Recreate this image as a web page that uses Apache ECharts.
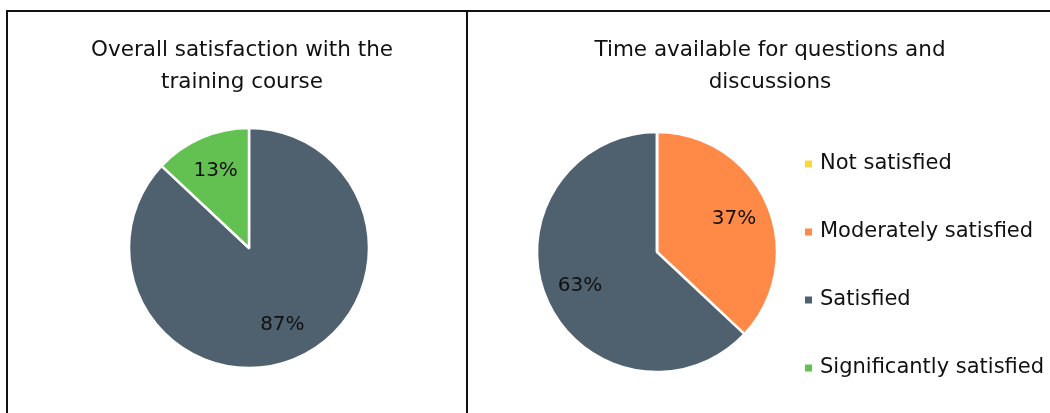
<!DOCTYPE html>
<html>
<head>
<meta charset="utf-8">
<script src="https://cdn.jsdelivr.net/npm/echarts@6/dist/echarts.min.js"></script>
<style>html,body{margin:0;padding:0;background:#fff;}#c{width:1050px;height:413px;}</style>
</head>
<body>
<div id="c"></div>
<script>
var categories = ['Not satisfied', 'Moderately satisfied', 'Satisfied', 'Significantly satisfied'];
var overallValues = [0, 0, 87, 13];
var timeValues = [0, 37, 63, 0];
var chartTitles = ['Overall satisfaction with the\ntraining course', 'Time available for questions and\ndiscussions'];
var colors = ['#FAD936', '#FF8A47', '#4F616F', '#63C152'];

var FONT = 'DejaVu Sans';
function makeData(vals) {
  return categories.map(function (n, i) { return { name: n, value: vals[i] }; });
}
function pieSeries(vals, center) {
  return {
    type: 'pie', center: center, radius: 120, startAngle: 90, clockwise: true,
    avoidLabelOverlap: false, animation: false,
    itemStyle: { borderColor: '#fff', borderWidth: 2.5 },
    label: { show: false }, labelLine: { show: false },
    emphasis: { disabled: true },
    data: makeData(vals)
  };
}
function labelSeries(vals, center) {
  return {
    type: 'pie', center: center, radius: [42, 120], startAngle: 90, clockwise: true,
    avoidLabelOverlap: false, animation: false, silent: true,
    itemStyle: { color: 'rgba(0,0,0,0)', borderWidth: 0 },
    label: {
      show: true, position: 'inside', color: '#111', fontFamily: FONT, fontSize: 20,
      formatter: function (p) { return p.value > 0 ? p.value + '%' : ''; }
    },
    labelLine: { show: false },
    emphasis: { disabled: true },
    legendHoverLink: false,
    data: makeData(vals)
  };
}
var chart = echarts.init(document.getElementById('c'), null, { renderer: 'canvas' });
chart.setOption({
  color: colors,
  animation: false,
  title: [
    { text: chartTitles[0], left: 237, top: 29, textAlign: 'center',
      textStyle: { fontFamily: FONT, fontWeight: 'normal', fontSize: 21.5, color: '#111', lineHeight: 32 } },
    { text: chartTitles[1], left: 765, top: 29, textAlign: 'center',
      textStyle: { fontFamily: FONT, fontWeight: 'normal', fontSize: 21.5, color: '#111', lineHeight: 32 } }
  ],
  legend: {
    orient: 'vertical', left: 798, top: 147, icon: 'rect', itemWidth: 9, itemHeight: 9,
    itemGap: 44, selectedMode: false,
    textStyle: { fontFamily: FONT, fontSize: 21, color: '#111', lineHeight: 24, padding: [0, 0, 0, 2] },
    data: categories
  },
  series: [
    pieSeries(overallValues, [249, 248]),
    labelSeries(overallValues, [249, 248]),
    pieSeries(timeValues, [657, 252]),
    labelSeries(timeValues, [657, 252])
  ],
  graphic: [
    { type: 'line', shape: { x1: 7, y1: 11, x2: 1050, y2: 11 }, style: { stroke: '#111', lineWidth: 2 }, silent: true },
    { type: 'line', shape: { x1: 7, y1: 10, x2: 7, y2: 413 }, style: { stroke: '#111', lineWidth: 2 }, silent: true },
    { type: 'line', shape: { x1: 467, y1: 10, x2: 467, y2: 413 }, style: { stroke: '#111', lineWidth: 2 }, silent: true }
  ]
});
</script>
</body>
</html>
